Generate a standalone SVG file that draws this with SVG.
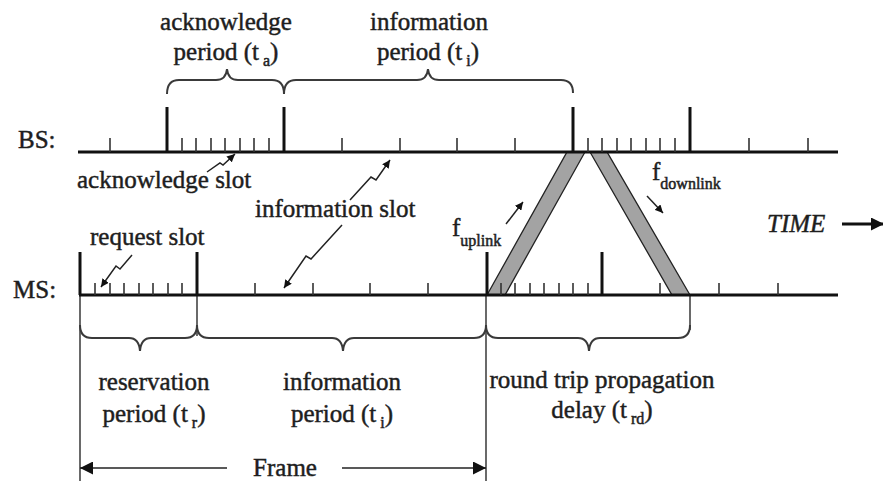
<svg xmlns="http://www.w3.org/2000/svg" width="883" height="481" viewBox="0 0 883 481">
<style>
  text { font-family: "Liberation Serif", "Times New Roman", serif; fill: #1e1e1e; stroke: #1e1e1e; stroke-width: 0.45; font-size: 25px; }
  .sub { font-size: 16px; stroke-width: 0.5; }
  .axis { stroke: #111; stroke-width: 3; fill: none; }
  .big { stroke: #111; stroke-width: 3; }
  .small { stroke: #333; stroke-width: 1.6; }
  .ext { stroke: #444; stroke-width: 1.6; fill: none; }
  .brace { stroke: #3a3a3a; stroke-width: 2; fill: none; }
  .band { fill: #a3a3a3; stroke: #222; stroke-width: 1.3; }
  .ptr { stroke: #222; stroke-width: 1.5; fill: none; }
</style>
<defs>
  <marker id="ah" viewBox="0 0 10 10" refX="10" refY="5" markerWidth="8" markerHeight="8" markerUnits="userSpaceOnUse" orient="auto">
    <path d="M0,0 L10,5 L0,10 z" fill="#111"/>
  </marker>
  <marker id="ahb" viewBox="0 0 10 10" refX="10" refY="5" markerWidth="13" markerHeight="13" markerUnits="userSpaceOnUse" orient="auto">
    <path d="M0,0 L10,5 L0,10 z" fill="#111"/>
  </marker>
</defs>
<rect width="883" height="481" fill="#ffffff"/>

<!-- propagation bands -->
<g id="bands">
  <polygon class="band" points="487,295 505,295 585,152 567,152"/>
  <polygon class="band" points="590,152 607,152 690,295 672,295"/>
</g>

<!-- BS timeline -->
<g id="bs">
  <text x="18" y="148">BS:</text>
  <line class="axis" x1="78" y1="152" x2="838" y2="152"/>
  <g class="big">
    <line x1="167" y1="107" x2="167" y2="152"/>
    <line x1="284" y1="107" x2="284" y2="152"/>
    <line x1="573" y1="107" x2="573" y2="152"/>
    <line x1="690" y1="107" x2="690" y2="152"/>
  </g>
  <g class="small">
    <line x1="110" y1="138" x2="110" y2="152"/>
    <line x1="182" y1="138" x2="182" y2="152"/>
    <line x1="196" y1="138" x2="196" y2="152"/>
    <line x1="211" y1="138" x2="211" y2="152"/>
    <line x1="225" y1="138" x2="225" y2="152"/>
    <line x1="240" y1="138" x2="240" y2="152"/>
    <line x1="254" y1="138" x2="254" y2="152"/>
    <line x1="269" y1="138" x2="269" y2="152"/>
    <line x1="342" y1="138" x2="342" y2="152"/>
    <line x1="400" y1="138" x2="400" y2="152"/>
    <line x1="457" y1="138" x2="457" y2="152"/>
    <line x1="515" y1="138" x2="515" y2="152"/>
    <line x1="588" y1="138" x2="588" y2="152"/>
    <line x1="602" y1="138" x2="602" y2="152"/>
    <line x1="617" y1="138" x2="617" y2="152"/>
    <line x1="631" y1="138" x2="631" y2="152"/>
    <line x1="646" y1="138" x2="646" y2="152"/>
    <line x1="660" y1="138" x2="660" y2="152"/>
    <line x1="675" y1="138" x2="675" y2="152"/>
    <line x1="749" y1="138" x2="749" y2="152"/>
    <line x1="808" y1="138" x2="808" y2="152"/>
  </g>
</g>

<!-- MS timeline -->
<g id="ms">
  <text x="13" y="298">MS:</text>
  <g class="ext">
    <line x1="80" y1="295" x2="80" y2="481"/>
    <line x1="197" y1="295" x2="197" y2="336"/>
    <line x1="486" y1="295" x2="486" y2="481"/>
    <line x1="690" y1="295" x2="690" y2="330"/>
  </g>
  <line class="axis" x1="79" y1="295" x2="838" y2="295"/>
  <g class="big">
    <line x1="80" y1="252" x2="80" y2="295"/>
    <line x1="197" y1="252" x2="197" y2="295"/>
    <line x1="487" y1="252" x2="487" y2="295"/>
    <line x1="602" y1="252" x2="602" y2="295"/>
  </g>
  <g class="small">
    <line x1="95" y1="283" x2="95" y2="295"/>
    <line x1="110" y1="283" x2="110" y2="295"/>
    <line x1="124" y1="283" x2="124" y2="295"/>
    <line x1="139" y1="283" x2="139" y2="295"/>
    <line x1="153" y1="283" x2="153" y2="295"/>
    <line x1="168" y1="283" x2="168" y2="295"/>
    <line x1="182" y1="283" x2="182" y2="295"/>
    <line x1="255" y1="283" x2="255" y2="295"/>
    <line x1="313" y1="283" x2="313" y2="295"/>
    <line x1="370" y1="283" x2="370" y2="295"/>
    <line x1="428" y1="283" x2="428" y2="295"/>
    <line x1="501" y1="283" x2="501" y2="295"/>
    <line x1="515" y1="283" x2="515" y2="295"/>
    <line x1="530" y1="283" x2="530" y2="295"/>
    <line x1="544" y1="283" x2="544" y2="295"/>
    <line x1="559" y1="283" x2="559" y2="295"/>
    <line x1="573" y1="283" x2="573" y2="295"/>
    <line x1="588" y1="283" x2="588" y2="295"/>
    <line x1="660" y1="283" x2="660" y2="295"/>
    <line x1="719" y1="283" x2="719" y2="295"/>
    <line x1="778" y1="283" x2="778" y2="295"/>
  </g>
</g>

<!-- top braces and labels -->
<g id="ack-period">
  <path class="brace" d="M167,94 Q167,80 179,80 L216,80 Q226,80 227,69 Q228,80 238,80 L272,80 Q284,80 284,94"/>
  <text x="226" y="30" text-anchor="middle">acknowledge</text>
  <text x="226" y="60" text-anchor="middle">period (t<tspan class="sub" dx="4" dy="6">a</tspan><tspan dy="-6">)</tspan></text>
</g>
<g id="info-period-bs">
  <path class="brace" d="M284,94 Q284,80 296,80 L417,80 Q427,80 428,69 Q429,80 439,80 L561,80 Q573,80 573,93"/>
  <text x="429" y="30" text-anchor="middle">information</text>
  <text x="428" y="60" text-anchor="middle">period (t<tspan class="sub" dx="4" dy="6">i</tspan><tspan dy="-6">)</tspan></text>
</g>

<!-- bottom braces and labels -->
<g id="reservation-period">
  <path class="brace" d="M80,325 Q80,338 92,338 L129,338 Q139,338 140,351 Q141,338 151,338 L185,338 Q197,338 197,325"/>
  <text x="154" y="390" text-anchor="middle">reservation</text>
  <text x="154" y="422" text-anchor="middle">period (t<tspan class="sub" dx="4" dy="6">r</tspan><tspan dy="-6">)</tspan></text>
</g>
<g id="info-period-ms">
  <path class="brace" d="M197,325 Q197,338 209,338 L332,338 Q342,338 343,351 Q344,338 354,338 L474,338 Q486,338 486,325"/>
  <text x="342" y="390" text-anchor="middle">information</text>
  <text x="342" y="422" text-anchor="middle">period (t<tspan class="sub" dx="4" dy="6">i</tspan><tspan dy="-6">)</tspan></text>
</g>
<g id="round-trip">
  <path class="brace" d="M486,325 Q486,338 498,338 L578,338 Q588,338 589,351 Q590,338 600,338 L678,338 Q690,338 690,325"/>
  <text x="602" y="388" text-anchor="middle">round trip propagation</text>
  <text x="602" y="418" text-anchor="middle">delay (t<tspan class="sub" dx="4" dy="6">rd</tspan><tspan dy="-6">)</tspan></text>
</g>

<!-- frame -->
<g id="frame">
  <line class="ptr" x1="227" y1="468" x2="80" y2="468" marker-end="url(#ahb)"/>
  <line class="ptr" x1="342" y1="468" x2="486" y2="468" marker-end="url(#ahb)"/>
  <text x="285" y="476" text-anchor="middle">Frame</text>
</g>

<!-- slot labels with pointers -->
<g id="connectors">
  <path class="ptr" d="M207,172 L220,163 L223,165 L235,154" marker-end="url(#ah)"/>
  <path class="ptr" d="M350,200 L371,177 L376,180 L390,160" marker-end="url(#ah)"/>
  <path class="ptr" d="M342,225 L311,259 L306,256 L284,288" marker-end="url(#ah)"/>
  <path class="ptr" d="M132,255 L120,269 L116,266 L101,287" marker-end="url(#ah)"/>
  <line class="ptr" x1="506" y1="224" x2="523" y2="202" stroke-width="2.2" marker-end="url(#ah)"/>
  <line class="ptr" x1="647" y1="196" x2="663" y2="213" stroke-width="2.2" marker-end="url(#ah)"/>
</g>
<g id="slot-labels">
  <text x="77" y="188">acknowledge slot</text>
  <text x="255" y="217">information slot</text>
  <text x="90" y="245">request slot</text>
</g>

<g id="freq-labels">
  <text x="452" y="236">f<tspan class="sub" dy="10">uplink</tspan></text>
  <text x="652" y="180">f<tspan class="sub" dy="9">downlink</tspan></text>
</g>

<g id="time">
  <text x="767" y="232" font-style="italic">TIME</text>
  <line x1="842" y1="224" x2="884" y2="224" stroke="#111" stroke-width="3" marker-end="url(#ahb)"/>
</g>
</svg>
